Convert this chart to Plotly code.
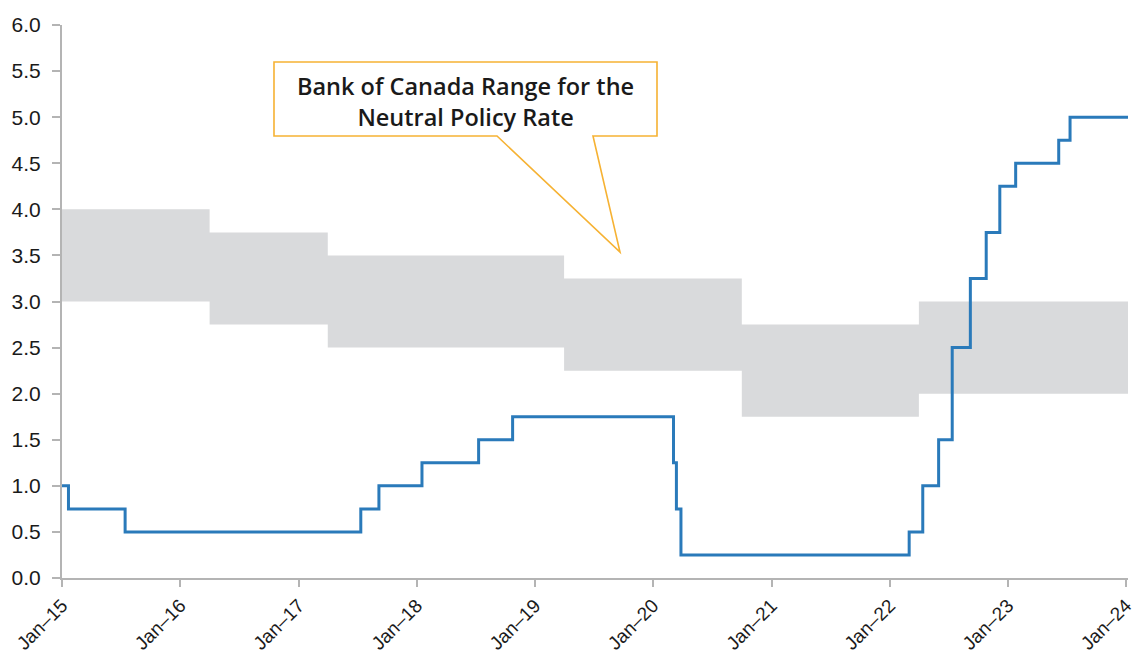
import plotly.graph_objects as go

# Bank of Canada overnight policy rate (step changes)
rate_dates = ["2015-01-01", "2015-01-21", "2015-07-15", "2017-07-12", "2017-09-06",
              "2018-01-17", "2018-07-11", "2018-10-24", "2020-03-04", "2020-03-13",
              "2020-03-27", "2022-03-02", "2022-04-13", "2022-06-01", "2022-07-13",
              "2022-09-07", "2022-10-26", "2022-12-07", "2023-01-25", "2023-06-07",
              "2023-07-12", "2024-01-07"]
rate_values = [1.00, 0.75, 0.50, 0.75, 1.00,
               1.25, 1.50, 1.75, 1.25, 0.75,
               0.25, 0.50, 1.00, 1.50, 2.50,
               3.25, 3.75, 4.25, 4.50, 4.75,
               5.00, 5.00]

# Bank of Canada neutral range
band_dates = ["2015-01-01", "2016-04-01", "2017-04-01", "2019-04-01",
              "2020-10-01", "2022-04-01", "2024-01-07"]
band_low = [3.00, 2.75, 2.50, 2.25, 1.75, 2.00, 2.00]
band_high = [4.00, 3.75, 3.50, 3.25, 2.75, 3.00, 3.00]

tick_dates = ["2015-01-01", "2016-01-01", "2017-01-01", "2018-01-01", "2019-01-01",
              "2020-01-01", "2021-01-01", "2022-01-01", "2023-01-01", "2024-01-01"]
tick_labels = ["Jan\u201315", "Jan\u201316", "Jan\u201317", "Jan\u201318", "Jan\u201319",
               "Jan\u201320", "Jan\u201321", "Jan\u201322", "Jan\u201323", "Jan\u201324"]

annot_text = "Bank of Canada Range for the<br>Neutral Policy Rate"

BAND = "#d9dadc"
BLUE = "#2a7aba"
AXIS = "#b4b4b4"
ORANGE = "#f6b233"

fig = go.Figure()
fig.add_trace(go.Scatter(x=band_dates, y=band_low, mode="lines",
                         line=dict(shape="hv", width=0, color=BAND),
                         hoverinfo="skip", showlegend=False))
fig.add_trace(go.Scatter(x=band_dates, y=band_high, mode="lines",
                         line=dict(shape="hv", width=0, color=BAND),
                         fill="tonexty", fillcolor=BAND,
                         hoverinfo="skip", showlegend=False))
fig.add_trace(go.Scatter(x=rate_dates, y=rate_values, mode="lines",
                         line=dict(shape="hv", width=3, color=BLUE),
                         showlegend=False))

L, R, T, B = 62, 4, 25, 76
W, H = 1132, 654
pw, ph = W - L - R, H - T - B


def px(xp):
    return (xp - L) / pw


def py(yp):
    return (H - B - yp) / ph


# callout box with pointer (paper coordinates)
pts = [(274, 62), (657, 62), (657, 136), (593, 136), (620, 252), (497, 136), (274, 136)]
path = "M " + " L ".join(f"{px(a):.5f},{py(b):.5f}" for a, b in pts) + " Z"
fig.add_shape(type="path", path=path, xref="paper", yref="paper",
              line=dict(color=ORANGE, width=1.6), fillcolor="white", layer="above")

fig.add_annotation(x=px(465.5), y=py(101), xref="paper", yref="paper",
                   text=annot_text, showarrow=False, align="center",
                   xanchor="center", yanchor="middle",
                   font=dict(family="Open Sans", size=23.5, color="#1a1a1a", weight=600))

fig.update_layout(
    width=W, height=H,
    margin=dict(l=L, r=R, t=T, b=B),
    plot_bgcolor="white", paper_bgcolor="white",
    font=dict(family="Liberation Sans", size=20, color="#1a1a1a"),
)
fig.update_xaxes(type="date", range=["2015-01-01", "2024-01-07"], automargin=False,
                 tickvals=tick_dates, ticktext=tick_labels, tickangle=-45,
                 ticklabeloverflow="allow",
                 showline=True, linecolor=AXIS, linewidth=2,
                 ticks="outside", tickcolor=AXIS, tickwidth=2, ticklen=7,
                 showgrid=False, zeroline=False,
                 tickfont=dict(family="Liberation Sans", size=19, color="#1a1a1a"))
fig.update_yaxes(range=[0, 6], dtick=0.5, tick0=0, tickformat=".1f", automargin=False,
                 ticklabelstandoff=7,
                 showline=True, linecolor=AXIS, linewidth=2,
                 ticks="outside", tickcolor=AXIS, tickwidth=2, ticklen=8,
                 showgrid=False, zeroline=False,
                 tickfont=dict(family="Liberation Sans", size=21, color="#1a1a1a"))

fig.write_html("out.html", config={"displayModeBar": False},
               post_script="document.body.style.margin='0';document.body.style.padding='0';")
